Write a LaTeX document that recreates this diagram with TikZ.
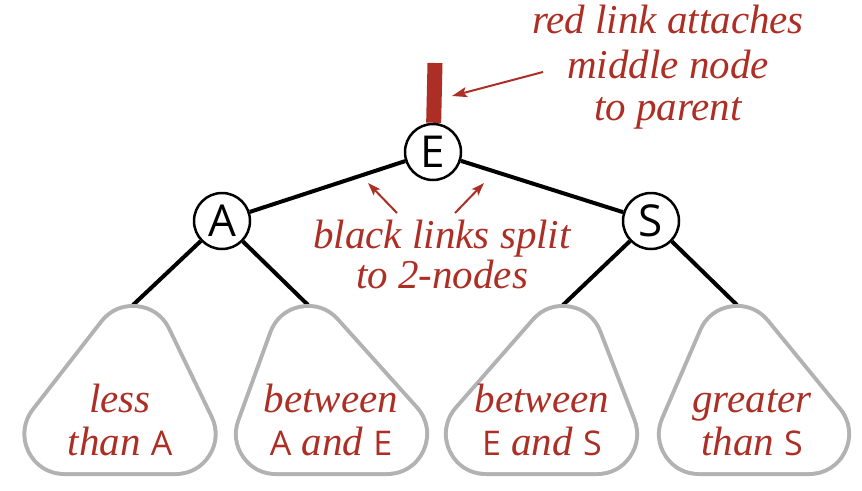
\documentclass[tikz,border=0pt]{standalone}
\usepackage{fontspec}
\setmainfont{Liberation Serif}
\newfontfamily\lsans{Open Sans}
\usetikzlibrary{arrows.meta,backgrounds}
\definecolor{bookred}{RGB}{172,46,36}
\definecolor{treegray}{RGB}{178,178,178}
\begin{document}
\begin{tikzpicture}[x=1pt,y=-1pt,
  key/.style={circle, draw=black, line width=2.5pt, fill=white, minimum size=56pt, inner sep=0pt, font=\lsans\fontsize{44}{44}\selectfont},
  link/.style={line width=4pt, draw=black},
  redlink/.style={line width=15pt, draw=bookred},
  note/.style={text=bookred, font=\itshape\fontsize{41}{43}\selectfont, inner sep=0pt, anchor=base},
  pointer/.style={draw=bookred, line width=2pt, -{Stealth[length=15pt,width=10pt,inset=3pt]}},
  smallpointer/.style={draw=bookred, line width=2pt, -{Stealth[length=13pt,width=9pt,inset=3pt]}},
  subtree/.style={draw=treegray, line width=84pt, line join=round, postaction={draw=white, line width=76pt}}
]
\useasboundingbox (0,0) rectangle (862,490);
\newcommand{\lts}[1]{{\upshape\lsans\fontsize{34}{34}\selectfont #1}}

% subtrees
\path[subtree] (133,346) -- (175.5,434) -- (64.5,434) -- cycle;
\path[subtree] (308,346) -- (387,434) -- (276,434) -- cycle;
\path[subtree] (563,346) -- (597,434) -- (486,434) -- cycle;
\path[subtree] (737,346) -- (809,434) -- (699,434) -- cycle;
\coordinate (t1) at (133,305);
\coordinate (t2) at (308,305);
\coordinate (t3) at (563,305);
\coordinate (t4) at (737,305);

% tree nodes
\node[key] (E) at (433,152) {E};
\node[key] (A) at (222,221) {A};
\node[key] (S) at (651,221) {S};
\coordinate (parent) at (435,63);

\begin{pgfonlayer}{background}
\draw[redlink] (parent) -- (E);
\draw[link] (E) -- (A);
\draw[link] (E) -- (S);
\draw[link] (A) -- (t1);
\draw[link] (A) -- (t2);
\draw[link] (S) -- (t3);
\draw[link] (S) -- (t4);
\end{pgfonlayer}

% subtree labels
\node[note] (l1a) at (120,412) {less};
\node[note] (l1b) at (120,455) {than \lts{A}};
\node[note] (l2a) at (331,412) {between};
\node[note] (l2b) at (331,455) {\lts{A} and \lts{E}};
\node[note] (l3a) at (542,412) {between};
\node[note] (l3b) at (542,455) {\lts{E} and \lts{S}};
\node[note] (l4a) at (752,412) {greater};
\node[note] (l4b) at (752,455) {than \lts{S}};

% annotations
\node[note] (n1) at (668,33) {red link attaches};
\node[note] (n2) at (668,78) {middle node};
\node[note] (n3) at (668,120) {to parent};
\node[note] (m1) at (442,248) {black links split};
\node[note] (m2) at (442,288) {to 2-nodes};

\coordinate (r0) at (543,72);
\coordinate (r1) at (452,96);
\draw[pointer] (r0) -- (r1);
\coordinate (b0) at (397,213);
\coordinate (b1) at (368,183);
\coordinate (c0) at (455,213);
\coordinate (c1) at (484,183);
\draw[smallpointer] (b0) -- (b1);
\draw[smallpointer] (c0) -- (c1);
\end{tikzpicture}
\end{document}
